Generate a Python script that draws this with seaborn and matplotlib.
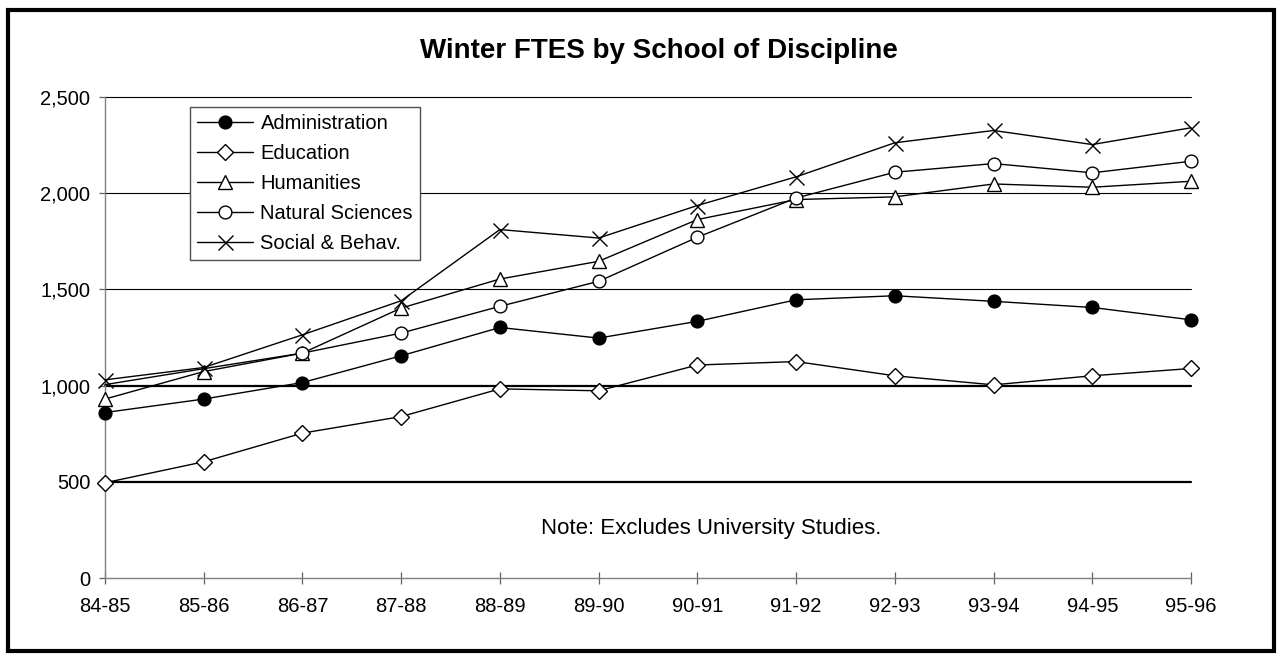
import matplotlib
matplotlib.use("Agg")
import matplotlib.pyplot as plt
import seaborn as sns
import numpy as np
import pandas as pd
from matplotlib.patches import Rectangle

years = ["84-85", "85-86", "86-87", "87-88", "88-89", "89-90",
         "90-91", "91-92", "92-93", "93-94", "94-95", "95-96"]
administration = [860, 930, 1016, 1155, 1302, 1247, 1334, 1446, 1467, 1438, 1406, 1342]
education = [495, 604, 753, 839, 983, 973, 1107, 1125, 1051, 1004, 1051, 1089]
humanities = [930, 1073, 1169, 1403, 1554, 1646, 1863, 1967, 1981, 2048, 2031, 2062]
natural_sciences = [1005, 1088, 1169, 1273, 1412, 1542, 1771, 1975, 2109, 2154, 2106, 2166]
social_behav = [1030, 1094, 1264, 1441, 1811, 1767, 1936, 2085, 2262, 2326, 2253, 2340]
y_ticks = [0, 500, 1000, 1500, 2000, 2500]
y_tick_labels = ["0", "500", "1,000", "1,500", "2,000", "2,500"]

sns.set_theme(style="white")
plt.rcParams["font.family"] = ["Liberation Sans", "DejaVu Sans"]
plt.rcParams["text.color"] = "black"
plt.rcParams["axes.labelcolor"] = "black"
plt.rcParams["xtick.color"] = "black"
plt.rcParams["ytick.color"] = "black"

fig = plt.figure(figsize=(12.8, 6.54), dpi=100)
W, H = 1280, 654
ax = fig.add_axes([105 / W, 1 - 578 / H, 1086 / W, 481 / H])

x = np.arange(len(years))
series = [
    ("Administration", administration, dict(marker="o", markersize=9.2, markerfacecolor="black", markeredgecolor="black")),
    ("Education", education, dict(marker="D", markersize=8.0, markerfacecolor="white", markeredgecolor="black")),
    ("Humanities", humanities, dict(marker="^", markersize=10, markerfacecolor="white", markeredgecolor="black")),
    ("Natural Sciences", natural_sciences, dict(marker="o", markersize=9.2, markerfacecolor="white", markeredgecolor="black", markevery=list(range(2, 12)))),
    ("Social & Behav.", social_behav, dict(marker="x", markersize=10.8, markerfacecolor="none", markeredgecolor="black")),
]
handles = []
for i, (name, vals, kw) in enumerate(series):
    sns.lineplot(x=x, y=vals, ax=ax, color="black", linewidth=1.0,
                 markeredgewidth=1.0, clip_on=False, zorder=3 + i, **kw)
    handles.append(ax.lines[-1])

ax.set_xlim(0, len(years) - 1)
ax.set_ylim(0, 2500)
ax.set_xticks(x)
ax.set_xticklabels(years)
ax.set_yticks(y_ticks)
ax.set_yticklabels(y_tick_labels)
ax.set_xlabel("")
ax.set_ylabel("")

ax.yaxis.grid(True, color="black", linewidth=0.8)
for yt, gl in zip(y_ticks, ax.get_ygridlines()):
    gl.set_clip_on(False)
    if yt in (500, 1000):
        gl.set_linewidth(1.6)
    if yt == 0:
        gl.set_visible(False)
ax.xaxis.grid(False)

for s in ["top", "right"]:
    ax.spines[s].set_visible(False)
for s in ["left", "bottom"]:
    ax.spines[s].set_color("#808080")
    ax.spines[s].set_linewidth(1.0)
    ax.spines[s].set_zorder(2.5)

ax.tick_params(axis="x", direction="inout", length=8, width=0.9, color="#606060",
               labelsize=14.5, pad=10, labelcolor="black", bottom=True)
ax.tick_params(axis="y", direction="out", length=4.5, width=0.9, color="#606060",
               labelsize=14.5, pad=6, labelcolor="black", left=True)

leg = ax.legend(handles=handles, labels=[s[0] for s in series],
                loc="upper left", bbox_to_anchor=(190 / W, 1 - 107 / H),
                bbox_transform=fig.transFigure, fontsize=14.5, frameon=True,
                fancybox=False, shadow=False, handlelength=2.8, handletextpad=0.35,
                labelspacing=0.55, borderpad=0.35, borderaxespad=0)
leg.get_frame().set_edgecolor("#505050")
leg.get_frame().set_linewidth(1.0)
leg.get_frame().set_facecolor("white")
leg.get_frame().set_alpha(1)
leg.set_zorder(10)
for t in leg.get_texts():
    t.set_color("black")

fig.text(659 / W, 1 - 58 / H, "Winter FTES by School of Discipline", ha="center",
         va="baseline", fontsize=20, fontweight="bold", color="black")
ax.text(0.558, (578 - 534) / 481, "Note: Excludes University Studies.", transform=ax.transAxes,
        ha="center", va="baseline", fontsize=16, color="black")

fig.patches.append(Rectangle((7.5 / W, 1 - 651 / H), (1274 - 7.5) / W, (651 - 9.5) / H,
                             transform=fig.transFigure, fill=False, edgecolor="black",
                             linewidth=3.0, zorder=0))

fig.savefig("out.png", dpi=100, facecolor="white")
